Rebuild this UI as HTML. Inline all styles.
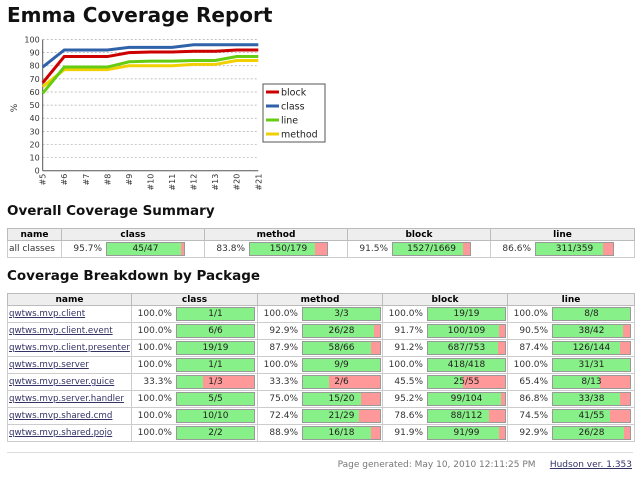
<!DOCTYPE html>
<html><head><meta charset="utf-8"><style>
body{margin:0;width:640px;height:477px;background:#fff;font-family:"DejaVu Sans","Liberation Sans",sans-serif;position:relative;overflow:hidden}
h1{position:absolute;left:7px;top:3px;margin:0;font-size:20px;font-weight:bold;color:#111}
h2{position:absolute;left:7px;margin:0;font-size:13.5px;font-weight:bold;color:#111}
table{position:absolute;left:7px;border-collapse:collapse;font-size:9px;table-layout:fixed;width:627px}
th{background:#eee;border:1px solid #bbb;height:11px;padding:0;font-weight:bold;font-size:9px}
td{border:1px solid #ccc;padding:0 2px;color:#333;white-space:nowrap;overflow:hidden}
.pct{display:inline-block;width:38px;text-align:right;margin-right:4px;vertical-align:middle}
.bar{display:inline-block;width:77px;height:12px;border:1px solid #999;background:#f99;position:relative;vertical-align:middle}
.bar .g{position:absolute;left:0;top:0;bottom:0;background:#88f088}
.bar .t{position:absolute;left:0;right:0;top:0;text-align:center;font-size:9px;line-height:12px;color:#222}
a{color:#336;text-decoration:underline}
#pkg td{height:16px}
</style></head><body>
<h1>Emma Coverage Report</h1>
<svg id="chart" width="340" height="200" style="position:absolute;left:0;top:0"></svg>
<h2 style="top:203px">Overall Coverage Summary</h2>
<table style="top:228px">
<colgroup><col style="width:54px"><col style="width:143px"><col style="width:143px"><col style="width:143px"><col style="width:144px"></colgroup>
<tr><th>name</th><th>class</th><th>method</th><th>block</th><th>line</th></tr>
<tr id="sumrow" style="height:17px"></tr>
</table>
<h2 style="top:268px">Coverage Breakdown by Package</h2>
<table id="pkg" style="top:293px">
<colgroup><col style="width:124px"><col style="width:126px"><col style="width:125px"><col style="width:125px"><col style="width:127px"></colgroup>
<tr><th>name</th><th>class</th><th>method</th><th>block</th><th>line</th></tr>
</table>
<div style="position:absolute;left:7px;right:7px;top:452px;border-top:1px solid #ddd"></div>
<div style="position:absolute;right:8px;top:460px;font-size:9px;color:#777">Page generated: May 10, 2010 12:11:25 PM &nbsp;&nbsp;&nbsp; <a href="#">Hudson ver. 1.353</a></div>
<script>
const builds=["#5","#6","#7","#8","#9","#10","#11","#12","#13","#20","#21"];
const blockVals=[67,87,87,87,90,90.5,90.5,91,91,92,92];
const classVals=[79,92,92,92,94,94,94,96,96,96,96];
const lineVals=[59,79,79,79,83,83.5,83.5,84,84,87,87];
const methodVals=[64,77,77,77,80,80,80,81,81,84,84];
const yTicks=[0,10,20,30,40,50,60,70,80,90,100];
const summary=[["45/47",45,47],["150/179",150,179],["1527/1669",1527,1669],["311/359",311,359]];
const pkgNames=["qwtws.mvp.client","qwtws.mvp.client.event","qwtws.mvp.client.presenter","qwtws.mvp.server","qwtws.mvp.server.guice","qwtws.mvp.server.handler","qwtws.mvp.shared.cmd","qwtws.mvp.shared.pojo"];
const pkgClass=[[1,1],[6,6],[19,19],[1,1],[1,3],[5,5],[10,10],[2,2]];
const pkgMethod=[[3,3],[26,28],[58,66],[9,9],[2,6],[15,20],[21,29],[16,18]];
const pkgBlock=[[19,19],[100,109],[687,753],[418,418],[25,55],[99,104],[88,112],[91,99]];
const pkgLine=[[8,8],[38,42],[126,144],[31,31],[8,13],[33,38],[41,55],[26,28]];
const pkgLinePct=["100.0%","90.5%","87.4%","100.0%","65.4%","86.8%","74.5%","92.9%"];

const NS="http://www.w3.org/2000/svg",svg=document.getElementById('chart');
const x0=42.7,x1=258.3,yTop=39.5,yBot=170.7;
const X=i=>x0+i*(x1-x0)/(builds.length-1);
const Y=v=>yBot-v*(yBot-yTop)/100;
function mk(t,a){const e=document.createElementNS(NS,t);for(const k in a)e.setAttribute(k,a[k]);svg.appendChild(e);return e;}
yTicks.forEach(v=>{
  if(v>0){const g=mk('line',{x1:x0,x2:x1,y1:Y(v),y2:Y(v),stroke:'#aaa','stroke-dasharray':'2,2','stroke-width':0.7});
  
  }
  const t=mk('text',{x:x0-3,y:Y(v)+3,'text-anchor':'end','font-size':8,fill:'#333'});t.textContent=v;
  
  
});
let ax=mk('line',{x1:x0,x2:x0,y1:yTop,y2:yBot,stroke:'#555'});


ax=mk('line',{x1:x0,x2:x1,y1:yBot,y2:yBot,stroke:'#555'});


const yt=mk('text',{x:17,y:108,'font-size':9,fill:'#333',transform:'rotate(-90 17 108)','text-anchor':'middle'});yt.textContent='%';


builds.forEach((b,i)=>{
  const t=mk('text',{x:X(i)+3,y:yBot+3,'font-size':8,fill:'#333','text-anchor':'end',transform:`rotate(-90 ${X(i)+3} ${yBot+3})`});t.textContent=b;
  
  
});
const series=[["method",methodVals,"#f2d000"],["line",lineVals,"#66cc11"],["block",blockVals,"#cc0000"],["class",classVals,"#2f62a8"]];
series.forEach(([n,vals,c])=>{
  const p=mk('polyline',{points:vals.map((v,i)=>X(i)+','+Y(v)).join(' '),fill:'none',stroke:c,'stroke-width':3});
  
  
});
const lb=mk('rect',{x:263,y:84,width:62,height:58,fill:'#fff',stroke:'#555'});


[["block","#cc0000"],["class","#2f62a8"],["line","#66cc11"],["method","#f2d000"]].forEach(([n,c],i)=>{
  const y=92+i*14;
  mk('line',{x1:266,x2:279,y1:y,y2:y,stroke:c,'stroke-width':3});
  const t=mk('text',{x:281,y:y+3.5,'font-size':9.5,fill:'#222'});t.textContent=n;
  
  
});

function cell(a,b,pt){const p=pt||(100*a/b).toFixed(1)+'%';
return `<span class="pct">${p}</span><span class="bar"><span class="g" style="width:${100*a/b}%"></span><span class="t">${a}/${b}</span></span>`;}
const sr=document.getElementById('sumrow');
sr.innerHTML='<td style="padding-left:1px">all classes</td>'+summary.map(s=>'<td>'+cell(s[1],s[2])+'</td>').join('');
const pk=document.getElementById('pkg');
pkgNames.forEach((n,i)=>{
  const tr=document.createElement('tr');
  
  
  tr.innerHTML=`<td style="padding-left:1px;font-size:8.7px"><a href="#">${n}</a></td>`+
   [pkgClass,pkgMethod,pkgBlock].map(a=>'<td>'+cell(a[i][0],a[i][1])+'</td>').join('')+
   '<td>'+cell(pkgLine[i][0],pkgLine[i][1],pkgLinePct[i])+'</td>';
  pk.appendChild(tr);
});
</script>
</body></html>
